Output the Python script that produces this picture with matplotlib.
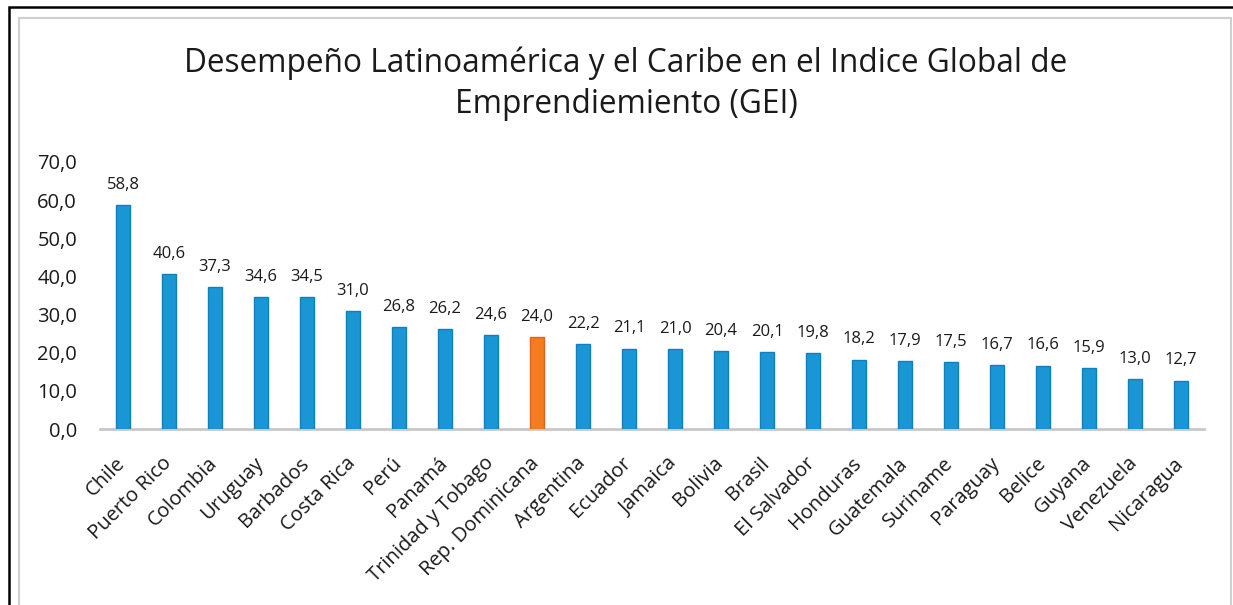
import matplotlib
matplotlib.use("Agg")
import matplotlib.pyplot as plt
from matplotlib.patches import Rectangle

countries = ["Chile", "Puerto Rico", "Colombia", "Uruguay", "Barbados", "Costa Rica",
             "Perú", "Panamá", "Trinidad y Tobago", "Rep. Dominicana", "Argentina",
             "Ecuador", "Jamaica", "Bolivia", "Brasil", "El Salvador", "Honduras",
             "Guatemala", "Suriname", "Paraguay", "Belice", "Guyana", "Venezuela", "Nicaragua"]
values = [58.8, 40.6, 37.3, 34.6, 34.5, 31.0, 26.8, 26.2, 24.6, 24.0, 22.2, 21.1, 21.0,
          20.4, 20.1, 19.8, 18.2, 17.9, 17.5, 16.7, 16.6, 15.9, 13.0, 12.7]
highlight = "Rep. Dominicana"
yticks = [0, 10, 20, 30, 40, 50, 60, 70]
title = "Desempeño Latinoamérica y el Caribe en el Indice Global de\nEmprendiemiento (GEI)"

plt.rcParams['font.family'] = ['Open Sans', 'DejaVu Sans']

W, H = 1233, 605
fig = plt.figure(figsize=(W / 100, H / 100), dpi=100)
fig.patch.set_facecolor("white")

# frame borders
fig.add_artist(Rectangle((9 / W, -0.1), 1.2, 1 - 7 / H + 0.1, transform=fig.transFigure,
                         fill=False, edgecolor="black", linewidth=1.8))
fig.add_artist(Rectangle((19 / W, -0.1), (1231 - 19) / W, 1 - 18 / H + 0.1, transform=fig.transFigure,
                         fill=False, edgecolor="#d0d0d0", linewidth=1.5))

ax = fig.add_axes([100 / W, 1 - 429 / H, (1204 - 100) / W, (429 - 162) / H])
x = list(range(len(countries)))
colors = ["#f47d20" if c == highlight else "#1a96d6" for c in countries]
edges = ["#d9661a" if c == highlight else "#127fb8" for c in countries]
ax.bar(x, values, width=0.31, color=colors, edgecolor=edges, linewidth=1.0, zorder=3)

for xi, v in zip(x, values):
    ax.text(xi, v + 3.2, f"{v:.1f}".replace(".", ","), ha="center", va="bottom",
            fontsize=12, color="#1a1a1a")

ax.set_xlim(-0.5, len(countries) - 0.5)
ax.set_ylim(0, 70)
ax.set_yticks(yticks)
ax.set_yticklabels([f"{t:.1f}".replace(".", ",") for t in yticks], fontsize=14.5, color="#1a1a1a")
ax.set_xticks(x)
ax.set_xticklabels([])
for xi, c in zip(x, countries):
    ax.annotate(c, xy=(xi, 0), xycoords=("data", "axes fraction"),
                xytext=(-5.5, -17.5), textcoords="offset points",
                rotation=45, ha="right", va="top", rotation_mode="anchor",
                fontsize=14.5, color="#1a1a1a", annotation_clip=False)
ax.tick_params(axis="both", length=0)
ax.tick_params(axis="y", pad=16.5)
for s in ["top", "right", "left"]:
    ax.spines[s].set_visible(False)
ax.spines["bottom"].set_color("#c8c8c8")
ax.spines["bottom"].set_linewidth(2)
ax.patch.set_alpha(0)

fig.text(626 / W, 1 - 84 / H, title, ha="center", va="center", fontsize=22.8,
         color="#1a1a1a", linespacing=1.3)

fig.savefig("out.png", dpi=100)
